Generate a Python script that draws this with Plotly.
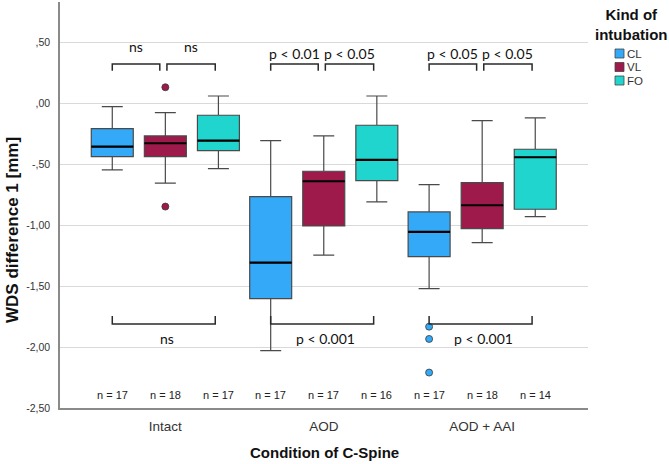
import plotly.graph_objects as go

# ---------------- data ----------------
groups = ["Intact", "AOD", "AOD + AAI"]
methods = ["CL", "VL", "FO"]

q1 = {"CL": [-0.436, -1.602, -1.257], "VL": [-0.436, -1.005, -1.027], "FO": [-0.387, -0.633, -0.868]}
median = {"CL": [-0.354, -1.306, -1.054], "VL": [-0.326, -0.638, -0.835], "FO": [-0.305, -0.463, -0.441]}
q3 = {"CL": [-0.206, -0.764, -0.890], "VL": [-0.266, -0.556, -0.649], "FO": [-0.096, -0.178, -0.375]}
lower = {"CL": [-0.545, -2.029, -1.520], "VL": [-0.654, -1.245, -1.142], "FO": [-0.534, -0.808, -0.929]}
upper = {"CL": [-0.025, -0.305, -0.666], "VL": [-0.075, -0.266, -0.140], "FO": [0.062, 0.062, -0.118]}

# outliers: (group index, method, value)
outlier_group = [0, 0, 2, 2, 2]
outlier_method = ["VL", "VL", "CL", "CL", "CL"]
outlier_value = [0.134, -0.846, -1.832, -1.933, -2.209]

n_counts = {"CL": [17, 17, 17], "VL": [18, 17, 18], "FO": [17, 16, 14]}

# comparisons: (group, method a, method b, label)
top_group = [0, 0, 1, 1, 2, 2]
top_a = ["CL", "VL", "CL", "VL", "CL", "VL"]
top_b = ["VL", "FO", "VL", "FO", "VL", "FO"]
top_label = ["ns", "ns", "p < 0.01", "p < 0.05", "p < 0.05", "p < 0.05"]

bottom_group = [0, 1, 2]
bottom_label = ["ns", "p < 0.001", "p < 0.001"]

y_ticks = [0.5, 0.0, -0.5, -1.0, -1.5, -2.0, -2.5]
y_ticktext = [",50", ",00", "-,50", "-1,00", "-1,50", "-2,00", "-2,50"]

# ---------------- styles ----------------
colors = {"CL": "#33a9f7", "VL": "#9d1a4b", "FO": "#1fd5ce"}
offset = {"CL": -0.335, "VL": 0.0, "FO": 0.335}
box_w = 0.265
LINE = "#2a2a2a"
ANN_FONT = "Lato, Arial, sans-serif"
AX_FONT = "Arial, Liberation Sans, sans-serif"

L, T, W, H = 60, 2, 528, 406  # plot area in px


def px(x):
    return (x - L) / W


def py(y):
    return 1 - (y - T) / H


def ann(**kw):
    d = dict(showarrow=False, xanchor="center", yanchor="middle")
    d.update(kw)
    return d


fig = go.Figure()

for m in methods:
    xs = [g + offset[m] for g in range(len(groups))]
    fig.add_trace(go.Box(
        x=xs, q1=q1[m], median=median[m], q3=q3[m],
        lowerfence=lower[m], upperfence=upper[m],
        width=box_w, whiskerwidth=0.5,
        fillcolor=colors[m], line=dict(color="#4a4a4a", width=1.2),
        boxpoints=False, showlegend=False, hoverinfo="skip",
    ))
    # thick black median
    mx, my = [], []
    for x, md in zip(xs, median[m]):
        mx += [x - box_w / 2, x + box_w / 2, None]
        my += [md, md, None]
    fig.add_trace(go.Scatter(x=mx, y=my, mode="lines",
                             line=dict(color="black", width=2.2),
                             showlegend=False, hoverinfo="skip"))

# outliers
fig.add_trace(go.Scatter(
    x=[g + offset[m] for g, m in zip(outlier_group, outlier_method)],
    y=outlier_value, mode="markers",
    marker=dict(size=7, color=[colors[m] for m in outlier_method],
                line=dict(color="#3a3a3a", width=0.8)),
    showlegend=False, hoverinfo="skip"))

shapes = []
annotations = []

# top brackets
top_line, top_foot = 0.325, 0.27
for g, a, b, lab in zip(top_group, top_a, top_b, top_label):
    x0 = g + offset[a] + (0.0 if a == "CL" else 0.01)
    x1 = g + offset[b] - (0.035 if b == "VL" else 0.02)
    shapes.append(dict(type="path", xref="x", yref="y",
                       path=f"M {x0},{top_foot} L {x0},{top_line} L {x1},{top_line} L {x1},{top_foot}",
                       line=dict(color=LINE, width=1.5)))
    yt = 0.47 if lab == "ns" else 0.415
    annotations.append(ann(x=(x0 + x1) / 2, y=yt, xref="x", yref="y", text=lab,
                           font=dict(family=ANN_FONT, size=14, color="#111")))

# bottom brackets
bot_line, bot_foot = -1.81, -1.745
for g, lab in zip(bottom_group, bottom_label):
    x0 = g + offset["CL"]
    x1 = g + offset["FO"] - 0.02
    shapes.append(dict(type="path", xref="x", yref="y",
                       path=f"M {x0},{bot_foot} L {x0},{bot_line} L {x1},{bot_line} L {x1},{bot_foot}",
                       line=dict(color=LINE, width=1.5)))
    annotations.append(ann(x=(x0 + x1) / 2 + 0.02, y=-1.93, xref="x", yref="y", text=lab,
                           font=dict(family=ANN_FONT, size=14, color="#111")))

# n labels
for m in methods:
    for g, n in enumerate(n_counts[m]):
        annotations.append(ann(x=g + offset[m], y=-2.39, xref="x", yref="y", text=f"n = {n}",
                               font=dict(family=AX_FONT, size=11, color="#222")))

# axis titles
annotations.append(ann(x=px(12), y=py(230), xref="paper", yref="paper",
                       text="<b>WDS difference 1 [mm]</b>", textangle=-90,
                       font=dict(family=AX_FONT, size=17, color="#111")))
annotations.append(ann(x=px(324), y=py(453), xref="paper", yref="paper",
                       text="<b>Condition of C-Spine</b>",
                       font=dict(family=AX_FONT, size=15, color="#111")))

# legend (manual)
annotations.append(ann(x=px(631), y=py(24), xref="paper", yref="paper",
                       text="<b>Kind of<br>intubation</b>", align="center",
                       font=dict(family=AX_FONT, size=15, color="#111")))
leg_y = [53.5, 67, 80.5]
for m, yy in zip(methods, leg_y):
    shapes.append(dict(type="rect", xref="paper", yref="paper",
                       x0=px(615), x1=px(624), y0=py(yy - 4.5), y1=py(yy + 4.5),
                       fillcolor=colors[m], line=dict(color="#444", width=0.8)))
    annotations.append(ann(x=px(625), y=py(yy), xref="paper", yref="paper", text=m,
                           xanchor="left",
                           font=dict(family=AX_FONT, size=11.5, color="#333")))

fig.update_layout(
    width=669, height=464,
    margin=dict(l=L, r=669 - L - W, t=T, b=464 - T - H),
    plot_bgcolor="white", paper_bgcolor="white",
    shapes=shapes, annotations=annotations,
    showlegend=False,
    xaxis=dict(range=[-0.665, 2.668], tickmode="array", tickvals=list(range(len(groups))),
               ticktext=groups, showgrid=False, zeroline=False, showline=True,
               linecolor="#8a8a8a", linewidth=1.5, ticks="", ticklabelstandoff=5,
               tickfont=dict(family=AX_FONT, size=13.5, color="#333")),
    yaxis=dict(range=[-2.5, 0.834], tickmode="array", tickvals=y_ticks, ticktext=y_ticktext,
               showgrid=True, gridcolor="#d9d9d9", gridwidth=1.3, zeroline=False,
               showline=True, linecolor="#8a8a8a", linewidth=1.5, ticks="",
               ticklabelstandoff=6, tickfont=dict(family=AX_FONT, size=10.5, color="#333")),
)

fig.write_html("out.html")
